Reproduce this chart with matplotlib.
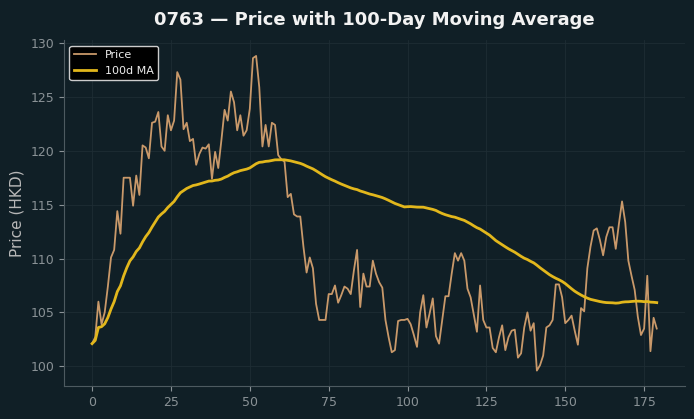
import numpy as np
import pandas as pd
import matplotlib
matplotlib.use("Agg")
import matplotlib.pyplot as plt

# daily closing prices (180 trading days)
price = [
    102.1, 102.7, 106.0, 103.9, 105.0, 107.4, 110.1, 110.8, 114.4, 112.3,
    117.5, 117.5, 117.5, 114.9, 117.7, 115.9, 120.5, 120.3, 119.3, 122.6,
    122.7, 123.6, 120.4, 120.0, 123.3, 121.9, 122.8, 127.3, 126.6, 122.0,
    122.6, 120.9, 121.1, 118.7, 119.7, 120.3, 120.2, 120.6, 117.4, 119.9,
    118.4, 121.0, 123.8, 122.8, 125.5, 124.5, 121.9, 123.3, 121.4, 121.9,
    123.9, 128.6, 128.8, 125.9, 120.4, 122.4, 120.4, 122.6, 122.4, 119.6,
    119.2, 119.0, 115.7, 116.0, 114.1, 113.9, 113.9, 111.1, 108.7, 110.1,
    109.1, 105.8, 104.3, 104.3, 104.3, 106.7, 106.7, 107.5, 105.9, 106.6,
    107.4, 107.2, 106.7, 108.9, 110.8, 105.5, 108.6, 107.4, 107.4, 109.8,
    108.6, 107.8, 107.3, 104.3, 102.7, 101.3, 101.5, 104.2, 104.3, 104.3,
    104.4, 103.9, 102.9, 101.8, 105.0, 106.6, 103.6, 104.9, 106.3, 102.8,
    102.1, 104.3, 106.5, 106.5, 108.6, 110.5, 109.8, 110.5, 109.8, 107.2,
    106.4, 104.8, 103.2, 107.5, 104.3, 103.6, 103.6, 101.7, 101.3, 102.7,
    103.8, 101.5, 102.7, 103.3, 103.4, 100.8, 101.2, 103.6, 105.0, 103.3,
    104.0, 99.6, 100.1, 101.0, 103.6, 103.8, 104.3, 107.6, 107.6, 106.4,
    104.0, 104.3, 104.7, 103.3, 102.0, 105.4, 105.1, 109.1, 111.1, 112.6,
    112.8, 111.7, 110.3, 112.0, 112.9, 112.9, 110.9, 113.2, 115.3, 113.4,
    109.8, 108.4, 107.1, 104.6, 102.9, 103.5, 108.4, 101.4, 104.5, 103.5,
]
window = 100
ticker = "0763"

bg = "#101f26"
s = pd.Series(price)
ma = s.rolling(window, min_periods=1).mean()
days = np.arange(len(price))

fig = plt.figure(figsize=(6.94, 4.19), dpi=100, facecolor=bg)
ax = fig.add_axes([0.092, 0.078, 0.895, 0.826])
ax.set_facecolor(bg)

ax.plot(days, s, color="#c9996a", lw=1.3, label="Price")
ax.plot(days, ma, color="#e2b71c", lw=2.0, label=f"{window}d MA")

ax.set_title(f"{ticker} \u2014 Price with {window}-Day Moving Average",
             color="#f2f2f2", fontsize=13, fontweight="bold", pad=11)
ax.set_ylabel("Price (HKD)", color="#b8b8b8", fontsize=11)

ax.grid(True, color="#1e2d34", lw=0.6)
ax.tick_params(colors="#8a9296", labelsize=9)
for side in ["top", "right"]:
    ax.spines[side].set_visible(False)
for side in ["left", "bottom"]:
    ax.spines[side].set_color("#4d5a60")

leg = ax.legend(loc="upper left", fontsize=8, facecolor="black",
                edgecolor="#cccccc", framealpha=1.0, labelcolor="#eeeeee")

plt.savefig("out.png", dpi=100, facecolor=bg)
